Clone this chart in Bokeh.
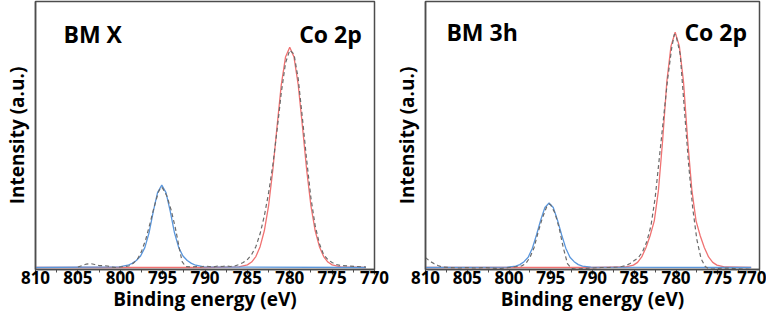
from bokeh.plotting import figure
from bokeh.models import Range1d, SingleIntervalTicker, FixedTicker, Label
from bokeh.layouts import row
from bokeh.embed import file_html
from bokeh.resources import INLINE

# ---------------- data (binding energy in eV, intensity in a.u.) ----------------
X_TICK_START, X_TICK_END = 810, 770

# Panel "BM X"
BE_L_RED = [810, 790, 786, 785, 784.5, 784, 783.5, 783, 782.5, 782, 781.5, 781, 780.5, 780,
            779.5, 779, 778.5, 778, 777.5, 777, 776.5, 776, 775.5, 775, 774, 771]
I_L_RED = [0, 0, 0.7, 2.7, 5.5, 11, 21, 37, 62, 98, 142, 184, 212, 222,
           212, 184, 142, 98, 62, 37, 21, 11, 5.5, 2.7, 0.7, 0]
BE_L_BLUE = [810, 800.1, 799.1, 798.6, 798.1, 797.6, 797.1, 796.6, 796.1, 795.6, 795.1,
             794.6, 794.1, 793.6, 793.1, 792.6, 792.1, 791.6, 791.1, 790.1, 771]
I_L_BLUE = [0, 0.7, 2.3, 4.2, 7, 11.6, 20, 35, 56.5, 75.5, 83,
            75.5, 56.5, 35, 20, 11.6, 7, 4.2, 2.3, 0.7, 0]
BE_L_DATA = [805, 804.5, 804, 803.5, 803, 802.5, 802, 801.5, 801, 800.5, 800, 799.5, 799,
             798.5, 798, 797.5, 797, 796.5, 796, 795.5, 795.2, 795, 794.5, 794, 793.5, 793,
             792.7, 792.3, 791.5, 791, 790.5, 790, 789.5, 789, 788.5, 788, 787.5, 787, 786.5,
             786, 785.5, 785, 784.5, 784, 783.5, 783, 782.5, 782, 781.5, 781, 780.5, 780,
             779.5, 779, 778.5, 778, 777.5, 777, 776.5, 776, 775.5, 775, 774.5, 774, 773,
             772, 771]
I_L_DATA = [0.5, 2, 3.5, 4, 3, 2, 2, 1.5, 0.5, 0, 0.5, 1, 1.5,
            4, 8, 16, 28, 44, 61, 76, 81, 80, 72, 58, 40, 18,
            6, 1, 0.5, 1, 0.5, 1.5, 1, 0.5, 1.5, 1, 1.5, 1, 1.5,
            3, 5, 8, 13, 21, 34, 52, 75, 103, 138, 176, 206, 219,
            215, 190, 150, 108, 70, 42, 24, 13, 8, 5, 3, 2, 1.5,
            1, 0.5]

# Panel "BM 3h"
BE_R_RED = [810, 790, 786.1, 785.1, 784.6, 784.1, 783.6, 783.1, 782.6, 782.1, 781.6, 781.1,
            780.6, 780.1, 779.6, 779.1, 778.6, 778.1, 777.6, 777.1, 776.6, 776.1, 775.6,
            775.1, 774.1, 771]
I_R_RED = [0, 0, 0.5, 2.4, 5.2, 10.7, 20, 32, 47, 78, 128, 187,
           223, 237, 223, 187, 128, 78, 47, 32, 20, 10.7, 5.2,
           2.4, 0.5, 0]
BE_R_BLUE = [810, 800.2, 799.2, 798.7, 798.2, 797.7, 797.2, 796.7, 796.2, 795.7, 795.2,
             794.7, 794.2, 793.7, 793.2, 792.7, 792.2, 791.7, 791.2, 790.2, 771]
I_R_BLUE = [0, 0.3, 1.4, 2.9, 5.9, 10.4, 19.5, 33, 48, 60.5, 65,
            60.5, 48, 33, 19.5, 10.4, 5.9, 2.9, 1.4, 0.3, 0]
BE_R_DATA = [810, 809.5, 809, 808.5, 808, 807, 806, 805, 804, 803, 802, 801, 800.5, 800,
             799.5, 799, 798.5, 798, 797.5, 797, 796.5, 796, 795.5, 795.2, 795, 794.5, 794,
             793.5, 793, 792.5, 792, 791, 790, 789, 788, 787, 786.5, 786, 785.5, 785, 784.5,
             784, 783.5, 783, 782.5, 782, 781.5, 781, 780.5, 780.2, 780, 779.5, 779, 778.5,
             778, 777.5, 777, 776.5, 776, 775.5, 775, 774, 773, 772, 771]
I_R_DATA = [10, 6.5, 4, 2, 0.5, 0, -0.5, 0, -0.5, 0, -0.5, -1, -0.5, 0,
            0.5, 1, 1.5, 4, 10, 20, 36, 50, 61, 64, 63, 55, 40,
            20, 4, -1, -1.5, -1, -0.5, 0, 0, 0.5, 1, 2, 4, 7, 10,
            16, 26, 42, 70, 110, 150, 190, 222, 235, 234, 215, 160, 105,
            60, 28, 9, 1, -1.5, -1.5, -1, -0.5, -1, -1.5, -2]

PANELS = [
    dict(title="BM X", data=(BE_L_DATA, I_L_DATA), red=(BE_L_RED, I_L_RED), blue=(BE_L_BLUE, I_L_BLUE)),
    dict(title="BM 3h", data=(BE_R_DATA, I_R_DATA), red=(BE_R_RED, I_R_RED), blue=(BE_R_BLUE, I_R_BLUE)),
]
ELEMENT = "Co 2p"
X_LABEL = "Binding energy (eV)"
Y_LABEL = "Intensity (a.u.)"

# ---------------- styling ----------------
FRAME_COLOR = "#4d4d4d"
RED = "#f07272"
BLUE = "#5a96dc"
GREY = "#6a6a6a"
Y_MIN, Y_MAX = -2, 268


def make_panel(panel, width, border_left, border_right, title_x, title_y):
    p = figure(width=width, height=314, output_backend="svg", toolbar_location=None,
               x_range=Range1d(X_TICK_START, X_TICK_END), y_range=Range1d(Y_MIN, Y_MAX),
               min_border_left=border_left, min_border_right=border_right,
               min_border_top=1, min_border_bottom=0)
    p.background_fill_color = "white"
    p.border_fill_color = "white"
    p.outline_line_color = FRAME_COLOR
    p.outline_line_width = 1.5
    p.xgrid.visible = False
    p.ygrid.visible = False

    xa = p.xaxis[0]
    xa.ticker = SingleIntervalTicker(interval=5, num_minor_ticks=2)
    xa.axis_line_color = FRAME_COLOR
    xa.axis_line_width = 1.5
    xa.major_tick_line_color = FRAME_COLOR
    xa.minor_tick_line_color = FRAME_COLOR
    xa.major_tick_line_width = 1.2
    xa.minor_tick_line_width = 1.0
    xa.major_tick_out = 5
    xa.major_tick_in = 0
    xa.minor_tick_out = 3
    xa.minor_tick_in = 0
    xa.major_label_text_font = "Open Sans"
    xa.major_label_text_font_style = "bold"
    xa.major_label_text_font_size = "17px"
    xa.major_label_text_color = "black"
    xa.major_label_standoff = -4
    xa.axis_label = X_LABEL
    xa.axis_label_text_font = "Open Sans"
    xa.axis_label_text_font_style = "bold"
    xa.axis_label_text_font_size = "19px"
    xa.axis_label_text_color = "black"
    xa.axis_label_standoff = -1

    ya = p.yaxis[0]
    ya.ticker = FixedTicker(ticks=[])
    ya.axis_line_color = FRAME_COLOR
    ya.axis_line_width = 1.5
    ya.major_tick_line_color = None
    ya.minor_tick_line_color = None
    ya.major_label_text_font_size = "0px"
    ya.axis_label = Y_LABEL
    ya.axis_label_text_font = "Open Sans"
    ya.axis_label_text_font_style = "bold"
    ya.axis_label_text_font_size = "19px"
    ya.axis_label_text_color = "black"
    ya.axis_label_standoff = 6

    p.line(*panel["red"], line_color=RED, line_width=1.3)
    p.line(*panel["blue"], line_color=BLUE, line_width=1.3)
    p.line(*panel["data"], line_color=GREY, line_width=1.2, line_dash="4 3")

    p.add_layout(Label(x=title_x, y=title_y, text=panel["title"], text_font="Open Sans",
                       text_font_style="bold", text_font_size="23px", text_color="black",
                       text_align="left", text_baseline="alphabetic"))
    p.add_layout(Label(x=771.5, y=title_y, text=ELEMENT, text_font="Open Sans",
                       text_font_style="bold", text_font_size="23px", text_color="black",
                       text_align="right", text_baseline="alphabetic"))
    return p


p1 = make_panel(PANELS[0], 390, 35, 16, 806.7, 235)
p2 = make_panel(PANELS[1], 376, 29, 7, 807.5, 237)
layout = row(p1, p2)

open("out.html", "w").write(file_html(layout, INLINE))
